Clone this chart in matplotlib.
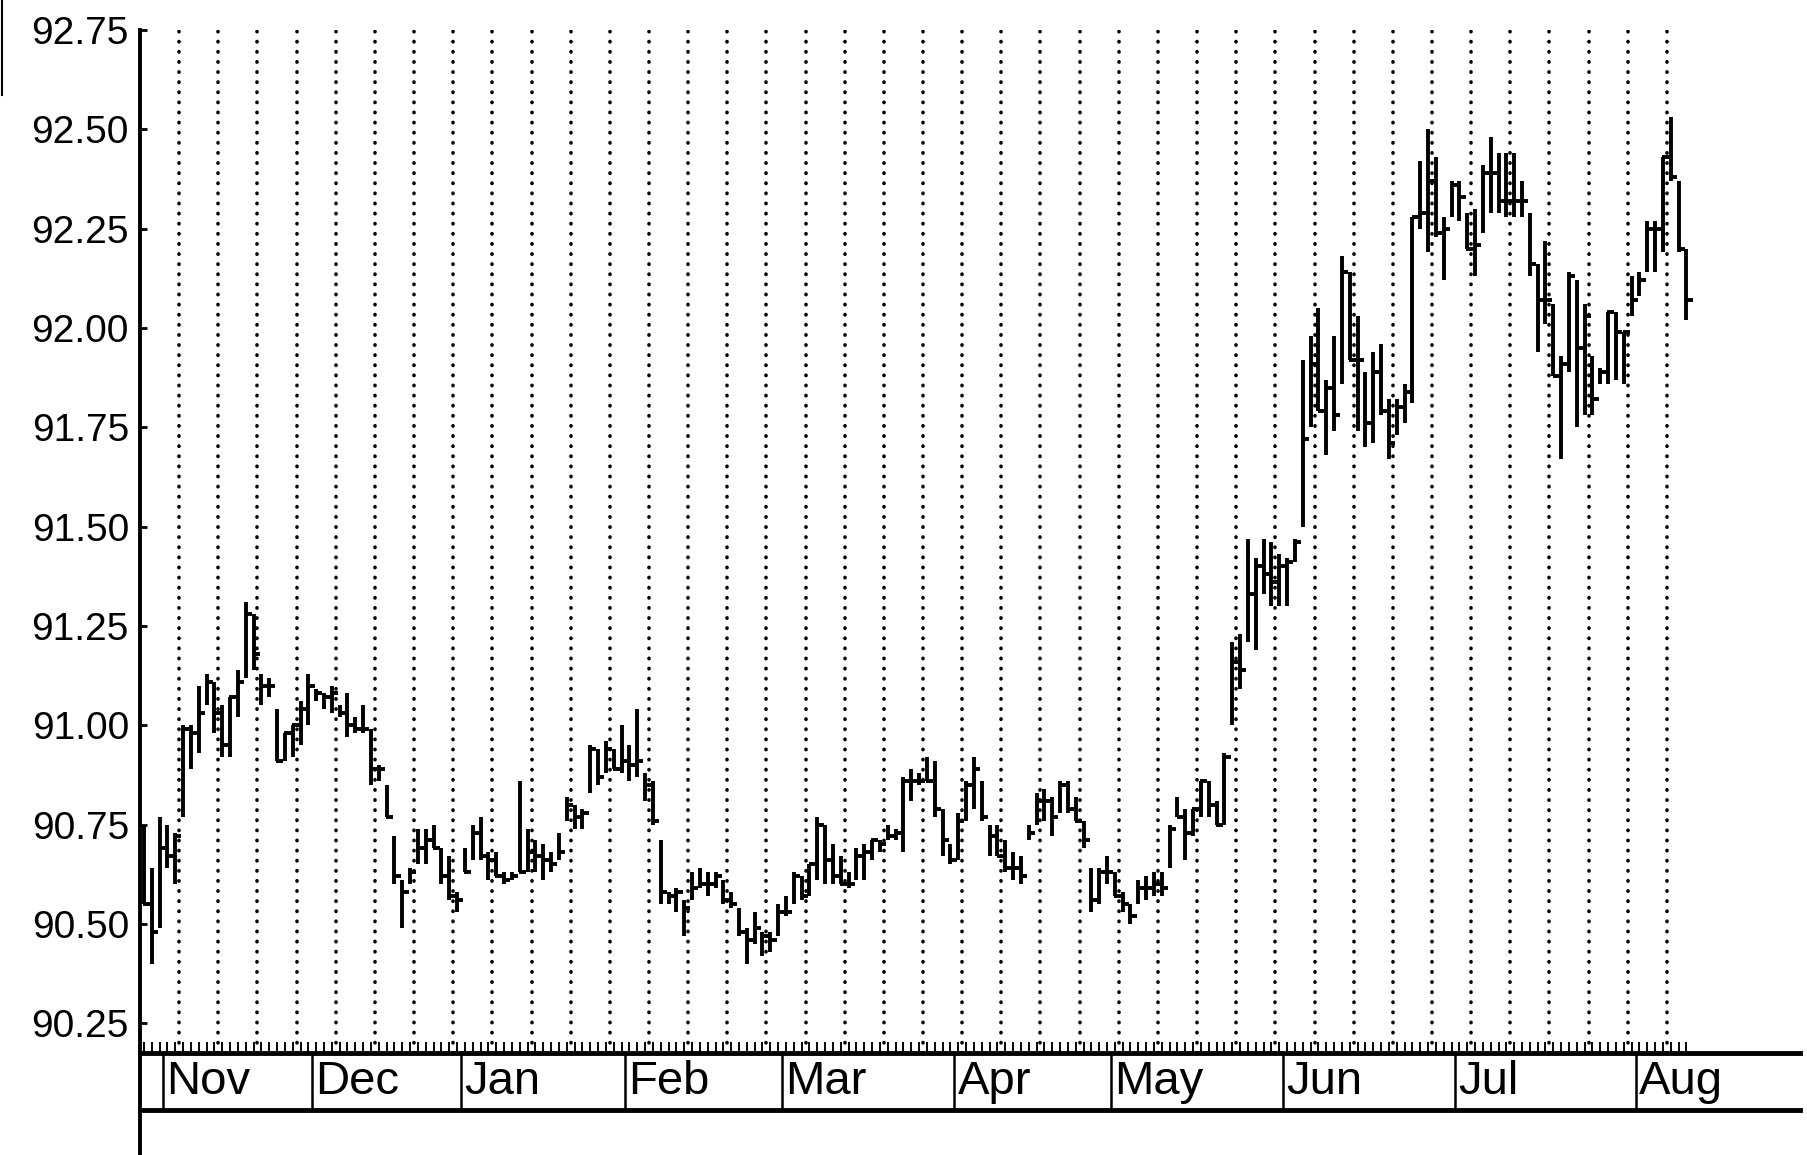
import matplotlib

matplotlib.use("Agg")

import matplotlib.pyplot as plt
import numpy as np
from matplotlib.lines import Line2D
from matplotlib.transforms import blended_transform_factory

# daily high / low / close (late Oct .. mid Aug)
highs = [
    90.75, 90.64, 90.77, 90.75, 90.73, 91.00, 91.00, 91.10, 91.13, 91.11,
    91.05, 91.07, 91.14, 91.31, 91.28, 91.13, 91.12, 91.04, 90.98, 91.00,
    91.06, 91.13, 91.09, 91.08, 91.10, 91.05, 91.08, 91.02, 91.05, 90.99,
    90.90, 90.85, 90.72, 90.61, 90.64, 90.74, 90.74, 90.75, 90.69, 90.67,
    90.58, 90.69, 90.75, 90.77, 90.68, 90.68, 90.63, 90.63, 90.86, 90.74,
    90.71, 90.70, 90.68, 90.73, 90.82, 90.80, 90.79, 90.95, 90.94, 90.96,
    90.94, 91.00, 90.95, 91.04, 90.88, 90.86, 90.71, 90.58, 90.59, 90.56,
    90.63, 90.64, 90.63, 90.63, 90.61, 90.58, 90.54, 90.49, 90.53, 90.48,
    90.48, 90.55, 90.57, 90.63, 90.62, 90.65, 90.77, 90.75, 90.70, 90.67,
    90.63, 90.69, 90.70, 90.71, 90.71, 90.75, 90.74, 90.87, 90.89, 90.88,
    90.92, 90.91, 90.79, 90.70, 90.78, 90.86, 90.92, 90.86, 90.75, 90.75,
    90.71, 90.68, 90.67, 90.75, 90.83, 90.84, 90.82, 90.86, 90.86, 90.82,
    90.76, 90.64, 90.64, 90.67, 90.63, 90.58, 90.55, 90.61, 90.62, 90.63,
    90.63, 90.75, 90.82, 90.79, 90.79, 90.86, 90.86, 90.81, 90.93, 91.21,
    91.23, 91.47, 91.42, 91.47, 91.46, 91.43, 91.42, 91.47, 91.92, 91.98,
    92.05, 91.87, 91.98, 92.18, 92.14, 92.03, 91.89, 91.94, 91.96, 91.82,
    91.82, 91.86, 92.28, 92.42, 92.50, 92.43, 92.28, 92.37, 92.37, 92.29,
    92.30, 92.41, 92.48, 92.44, 92.44, 92.44, 92.37, 92.29, 92.16, 92.22,
    92.06, 91.93, 92.14, 92.12, 92.06, 91.93, 91.90, 92.04, 92.04, 91.99,
    92.13, 92.14, 92.27, 92.27, 92.43, 92.53, 92.37, 92.20,
]
lows = [
    90.55, 90.40, 90.49, 90.64, 90.60, 90.77, 90.89, 90.93, 91.05, 90.98,
    90.92, 90.92, 91.02, 91.12, 91.14, 91.05, 91.07, 90.91, 90.91, 90.92,
    90.95, 91.00, 91.06, 91.04, 91.03, 91.02, 90.97, 90.98, 90.98, 90.85,
    90.86, 90.77, 90.60, 90.49, 90.60, 90.65, 90.65, 90.69, 90.60, 90.56,
    90.53, 90.63, 90.66, 90.66, 90.61, 90.62, 90.60, 90.61, 90.63, 90.63,
    90.63, 90.61, 90.63, 90.66, 90.76, 90.74, 90.74, 90.83, 90.85, 90.88,
    90.89, 90.88, 90.86, 90.87, 90.81, 90.75, 90.55, 90.55, 90.53, 90.47,
    90.56, 90.59, 90.57, 90.59, 90.55, 90.54, 90.47, 90.40, 90.45, 90.42,
    90.43, 90.47, 90.52, 90.55, 90.56, 90.57, 90.61, 90.60, 90.60, 90.60,
    90.59, 90.61, 90.61, 90.66, 90.68, 90.71, 90.71, 90.68, 90.81, 90.85,
    90.86, 90.77, 90.67, 90.65, 90.66, 90.76, 90.79, 90.76, 90.67, 90.67,
    90.63, 90.61, 90.60, 90.71, 90.75, 90.76, 90.72, 90.78, 90.78, 90.76,
    90.69, 90.53, 90.55, 90.60, 90.57, 90.53, 90.50, 90.55, 90.56, 90.57,
    90.57, 90.64, 90.77, 90.66, 90.72, 90.77, 90.77, 90.75, 90.75, 91.00,
    91.09, 91.21, 91.19, 91.33, 91.30, 91.30, 91.30, 91.41, 91.50, 91.75,
    91.79, 91.68, 91.74, 91.86, 91.92, 91.74, 91.70, 91.71, 91.78, 91.67,
    91.73, 91.76, 91.81, 92.25, 92.19, 92.23, 92.12, 92.28, 92.27, 92.20,
    92.13, 92.24, 92.29, 92.29, 92.28, 92.28, 92.28, 92.13, 91.94, 92.01,
    91.88, 91.67, 91.89, 91.75, 91.78, 91.78, 91.86, 91.86, 91.87, 91.86,
    92.03, 92.08, 92.14, 92.14, 92.19, 92.37, 92.19, 92.02,
]
closes = [
    90.55, 90.48, 90.69, 90.67, 90.72, 90.99, 90.98, 91.03, 91.11, 91.03,
    90.95, 91.07, 91.11, 91.28, 91.18, 91.10, 91.10, 90.91, 90.98, 91.00,
    91.04, 91.10, 91.08, 91.07, 91.08, 91.03, 91.00, 90.99, 90.99, 90.89,
    90.89, 90.77, 90.62, 90.58, 90.63, 90.69, 90.71, 90.69, 90.62, 90.57,
    90.56, 90.63, 90.73, 90.67, 90.66, 90.62, 90.61, 90.62, 90.63, 90.68,
    90.67, 90.66, 90.65, 90.68, 90.80, 90.77, 90.78, 90.94, 90.87, 90.94,
    90.89, 90.91, 90.90, 90.91, 90.85, 90.76, 90.58, 90.57, 90.58, 90.54,
    90.59, 90.60, 90.60, 90.62, 90.56, 90.55, 90.48, 90.46, 90.49, 90.47,
    90.46, 90.53, 90.53, 90.62, 90.57, 90.65, 90.75, 90.66, 90.62, 90.60,
    90.60, 90.67, 90.68, 90.71, 90.70, 90.72, 90.73, 90.86, 90.86, 90.86,
    90.86, 90.79, 90.71, 90.66, 90.76, 90.85, 90.89, 90.77, 90.72, 90.67,
    90.64, 90.64, 90.62, 90.73, 90.81, 90.81, 90.77, 90.85, 90.79, 90.76,
    90.71, 90.56, 90.63, 90.63, 90.57, 90.55, 90.52, 90.59, 90.59, 90.60,
    90.59, 90.74, 90.77, 90.73, 90.79, 90.86, 90.80, 90.75, 90.92, 91.16,
    91.14, 91.33, 91.40, 91.38, 91.36, 91.40, 91.41, 91.46, 91.72, 91.91,
    91.79, 91.85, 91.78, 92.14, 91.92, 91.92, 91.76, 91.89, 91.79, 91.71,
    91.80, 91.84, 92.28, 92.29, 92.37, 92.24, 92.25, 92.36, 92.33, 92.20,
    92.21, 92.39, 92.39, 92.32, 92.32, 92.32, 92.32, 92.16, 92.07, 92.07,
    91.88, 91.91, 92.13, 91.95, 92.03, 91.82, 91.89, 92.04, 91.99, 91.99,
    92.07, 92.12, 92.25, 92.25, 92.43, 92.38, 92.20, 92.07,
]

month_labels = ["Nov", "Dec", "Jan", "Feb", "Mar", "Apr", "May", "Jun", "Jul", "Aug"]
month_starts = [3, 22, 41, 62, 82, 104, 124, 146, 168, 191]
y_ticks = [90.25, 90.50, 90.75, 91.00, 91.25, 91.50, 91.75, 92.00, 92.25, 92.50, 92.75]

plt.rcParams["font.family"] = ["Liberation Sans Narrow", "Liberation Sans", "DejaVu Sans"]

W, H = 1808, 1155
left_px, right_px, top_px, base_px, box_px = 140, 1800, 30, 1053, 1110
bar_step = 7.83

fig = plt.figure(figsize=(W / 100, H / 100), dpi=100, facecolor="white")
ax = fig.add_axes([left_px / W, 1 - base_px / H, (right_px - left_px) / W, (base_px - top_px) / H])

n = len(closes)
x = np.arange(n)
x0 = -0.5
ax.set_xlim(x0, x0 + (right_px - left_px) / bar_step)
y_min, y_max = 90.175, 92.75
ax.set_ylim(y_min, y_max)

# weekly dotted guides
weeks = np.arange(4.5, n, 5)
guides = ax.vlines(weeks, y_min, y_max, colors="black", linewidth=2.6,
                   linestyles=[(0, (0.1, 2.7))])
guides.set_capstyle("round")

# HLC bars: range line plus close tick on the right
ax.vlines(x, lows, highs, colors="black", linewidth=2.8)
ax.hlines(closes, x - 0.1, x + 0.8, colors="black", linewidth=2.8)

for side in ("top", "right"):
    ax.spines[side].set_visible(False)
ax.spines["left"].set_linewidth(2.8)
ax.spines["bottom"].set_linewidth(3.5)

ax.set_yticks(y_ticks)
ax.set_yticklabels([f"{v:.2f}" for v in y_ticks])
ax.tick_params(axis="y", direction="in", length=5, width=2, pad=8, labelsize=28)

ax.set_xticks([])
ax.set_xticks(x, minor=True)
ax.tick_params(axis="x", which="minor", direction="in", length=8, width=1.4)

# month strip below the axis
span = base_px - top_px
box_y = -(box_px - base_px) / span
trans = blended_transform_factory(ax.transData, ax.transAxes)
ax.plot([0, 0], [0, -(H - base_px) / span], transform=ax.transAxes,
        color="black", linewidth=2.8, clip_on=False)
ax.plot([0, 1], [box_y, box_y], transform=ax.transAxes,
        color="black", linewidth=3.5, clip_on=False)
for label, start in zip(month_labels, month_starts):
    ax.plot([start - 0.5, start - 0.5], [0, box_y], transform=trans,
            color="black", linewidth=1.8, clip_on=False)
    ax.text(start - 0.1, box_y / 2, label, transform=trans, ha="left", va="center",
            fontsize=34, color="black")

# scan edge mark at the top-left corner
fig.add_artist(Line2D([2 / W, 2 / W], [1, 1 - 95 / H], transform=fig.transFigure,
                      color="black", linewidth=1.5))

fig.savefig("out.png", dpi=100, facecolor="white")
plt.close(fig)
